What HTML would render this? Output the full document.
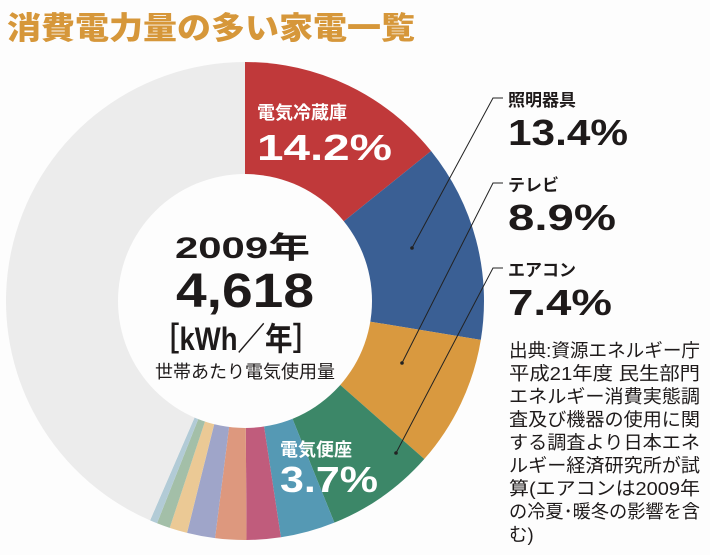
<!DOCTYPE html>
<html><head><meta charset="utf-8"><style>
body{margin:0;background:#fdfdfd;width:710px;height:555px;overflow:hidden;font-family:"Liberation Sans","Noto Sans CJK JP",sans-serif}
svg{position:absolute;left:0;top:0}
</style></head><body>
<svg width="710" height="555" viewBox="0 0 710 555" xmlns="http://www.w3.org/2000/svg">
<rect width="710" height="555" fill="#fdfdfd"/>
<text x="7" y="39" font-family="Liberation Sans, Noto Sans CJK JP, sans-serif" font-weight="900" font-size="31" fill="#d6973a" textLength="408" lengthAdjust="spacingAndGlyphs">消費電力量の多い家電一覧</text>
<g id="pie"></g>
<circle cx="245" cy="301" r="127" fill="#fdfdfd"/>
<g font-family="Liberation Sans, Noto Sans CJK JP, sans-serif" fill="#1e1a1a" font-weight="bold">
<text x="175" y="258" font-size="30" textLength="135" lengthAdjust="spacingAndGlyphs">2009年</text>
<text x="176" y="307" font-size="48" textLength="138" lengthAdjust="spacingAndGlyphs">4,618</text>
<text x="152" y="350" font-size="32" textLength="168" lengthAdjust="spacingAndGlyphs">［kWh／年］</text>
<text x="155" y="378" font-size="18" font-weight="normal" textLength="180" lengthAdjust="spacingAndGlyphs">世帯あたり電気使用量</text>
</g>
<g font-family="Liberation Sans, Noto Sans CJK JP, sans-serif" fill="#fff" font-weight="bold">
<text x="257" y="119" font-size="18">電気冷蔵庫</text>
<text x="257" y="160" font-size="36" textLength="135" lengthAdjust="spacingAndGlyphs">14.2%</text>
<text x="280" y="456" font-size="18">電気便座</text>
<text x="280" y="492" font-size="36" textLength="98" lengthAdjust="spacingAndGlyphs">3.7%</text>
</g>
<g stroke="#222" stroke-width="1" fill="none">
<polyline points="503,98 493,98 412,248"/>
<polyline points="503,183 493,183 402,363"/>
<polyline points="503,268 493,268 396,453"/>
</g>
<g fill="#222"><circle cx="412" cy="248" r="1.8"/><circle cx="402" cy="363" r="1.8"/><circle cx="396" cy="453" r="1.8"/></g>
<g font-family="Liberation Sans, Noto Sans CJK JP, sans-serif" fill="#1e1a1a" font-weight="bold">
<text x="508" y="106" font-size="17">照明器具</text>
<text x="508" y="145" font-size="36" textLength="120" lengthAdjust="spacingAndGlyphs">13.4%</text>
<text x="508" y="191" font-size="17">テレビ</text>
<text x="508" y="230" font-size="36" textLength="108" lengthAdjust="spacingAndGlyphs">8.9%</text>
<text x="508" y="276" font-size="17">エアコン</text>
<text x="508" y="315" font-size="36" textLength="104" lengthAdjust="spacingAndGlyphs">7.4%</text>
</g>
<g font-family="Liberation Sans, Noto Sans CJK JP, sans-serif" fill="#1e1a1a" font-size="18.5">
<text x="509" y="357" textLength="191" lengthAdjust="spacingAndGlyphs">出典:資源エネルギー庁</text>
<text x="509" y="380" textLength="191" lengthAdjust="spacingAndGlyphs">平成21年度 民生部門</text>
<text x="509" y="403" textLength="191" lengthAdjust="spacingAndGlyphs">エネルギー消費実態調</text>
<text x="509" y="426" textLength="191" lengthAdjust="spacingAndGlyphs">査及び機器の使用に関</text>
<text x="509" y="449" textLength="191" lengthAdjust="spacingAndGlyphs">する調査より日本エネ</text>
<text x="509" y="472" textLength="191" lengthAdjust="spacingAndGlyphs">ルギー経済研究所が試</text>
<text x="509" y="495" textLength="191" lengthAdjust="spacingAndGlyphs">算(エアコンは2009年</text>
<text x="509" y="518" textLength="191" lengthAdjust="spacingAndGlyphs">の冷夏･暖冬の影響を含</text>
<text x="509" y="541">む)</text>
</g>
</svg>
<script>
(function(){
var cx=245,cy=301,r=239;
var d=[[14.2,"#c0393a"],[13.4,"#3a5f94"],[8.9,"#d9993f"],[7.4,"#3c8768"],[3.7,"#5599b4"],[2.3,"#c05c7c"],[2.1,"#dd987e"],[1.9,"#9fa5c9"],[1.2,"#ebc995"],[0.9,"#a3bfa8"],[0.5,"#b2cbd6"]];
var s=0;d.forEach(function(x){s+=x[0]});d.push([100-s,"#ececec"]);
var g=document.getElementById("pie"),a=-90,h="";
d.forEach(function(x){var b=a+x[0]*3.6;var a1=a*Math.PI/180,b1=b*Math.PI/180;
h+='<path d="M'+cx+','+cy+' L'+(cx+r*Math.cos(a1))+','+(cy+r*Math.sin(a1))+' A'+r+','+r+' 0 '+((b-a)>180?1:0)+' 1 '+(cx+r*Math.cos(b1))+','+(cy+r*Math.sin(b1))+' Z" fill="'+x[1]+'"/>';a=b;});
g.innerHTML=h;
})();
</script>
</body></html>
